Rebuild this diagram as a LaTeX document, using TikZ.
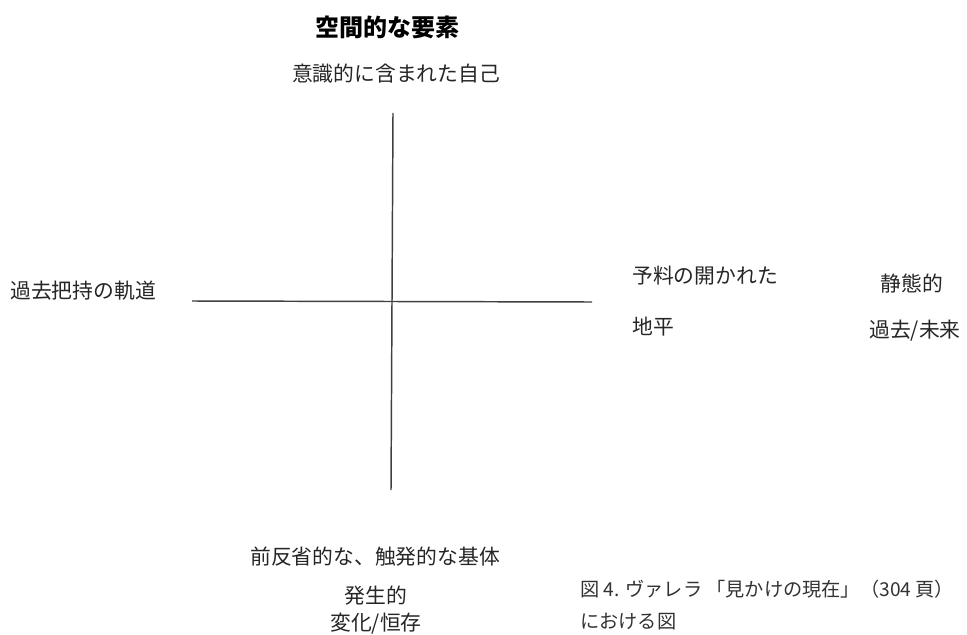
\documentclass[tikz,border=0pt]{standalone}
\usepackage{fontspec}
\setmainfont{Noto Sans CJK JP}
\newfontfamily\jpfont{Noto Sans CJK JP}
\begin{document}
\begin{tikzpicture}[x=0.75pt,y=-0.75pt,
  lbl/.style={font=\jpfont\fontsize{15.6}{17}\selectfont, text=black!85, inner sep=0pt},
  ttl/.style={font=\jpfont\bfseries\fontsize{18}{20}\selectfont, inner sep=0pt},
  captext/.style={font=\jpfont\fontsize{14.4}{16}\selectfont, text=black!80, inner sep=0pt, anchor=west},
  axis/.style={draw=black!75, line width=1.1pt}]
\useasboundingbox (0,0) rectangle (967,635);
\fill[white] (0,0) rectangle (967,635);
% axes
\coordinate (top) at (393,113);
\coordinate (bot) at (391,490);
\coordinate (lft) at (192,301);
\coordinate (rgt) at (592,302);
\draw[axis] (top) -- (bot);
\draw[axis] (lft) -- (rgt);
% labels
\node[ttl] (title) at (387,27) {空間的な要素};
\node[lbl] (self) at (396,74) {意識的に含まれた自己};
\node[lbl, anchor=west] (ret) at (10,291) {過去把持の軌道};
\node[lbl, anchor=west] (pro1) at (632,276) {予料の開かれた};
\node[lbl, anchor=west] (pro2) at (632,327) {地平};
\node[lbl] (stat1) at (912,284) {静態的};
\node[lbl] (stat2) at (915,331) {過去/未来};
\node[lbl] (pre) at (375,557) {前反省的な、触発的な基体};
\node[lbl] (gen1) at (376,596) {発生的};
\node[lbl] (gen2) at (376,624) {変化/恒存};
\node[captext] (cap1) at (580,589) {図 4. ヴァレラ 「見かけの現在」（304 頁）};
\node[captext] (cap2) at (580,622) {における図};
\end{tikzpicture}
\end{document}
